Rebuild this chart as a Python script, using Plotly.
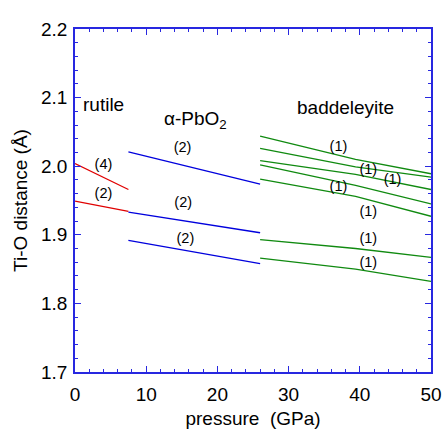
import plotly.graph_objects as go

# Rutile (red), x 0 -> 7.5 GPa
rutile_x = [0, 7.5]
rutile_4 = [2.004, 1.966]
rutile_2 = [1.949, 1.934]

# alpha-PbO2 (blue), x 7.5 -> 26 GPa
apbo2_x = [7.5, 26]
apbo2_upper = [2.021, 1.974]
apbo2_mid = [1.933, 1.903]
apbo2_lower = [1.892, 1.858]

# Baddeleyite (green), x 26 -> 50 GPa
badd_x = [26, 39.4, 50]
badd_1 = [2.044, 2.010, 1.989]
badd_2 = [2.026, 1.999, 1.984]
badd_3 = [2.008, 1.988, 1.966]
badd_4 = [2.002, 1.972, 1.945]
badd_5 = [1.981, 1.956, 1.927]
badd_6 = [1.893, 1.880, 1.867]
badd_7 = [1.866, 1.850, 1.832]

# Multiplicity labels
mult_text = ["(4)", "(2)", "(2)", "(2)", "(2)", "(1)", "(1)", "(1)", "(1)", "(1)", "(1)", "(1)"]
mult_x = [4.0, 4.0, 15.1, 15.2, 15.5, 37.0, 41.2, 44.6, 37.0, 41.2, 41.2, 41.2]
mult_y = [2.001, 1.959, 2.026, 1.946, 1.893, 2.028, 1.994, 1.979, 1.969, 1.933, 1.894, 1.858]

phase_text = ["rutile", "α-PbO<sub>2</sub>", "baddeleyite"]
phase_x = [0.8, 12.2, 30.9]
phase_y = [2.090, 2.067, 2.086]

RED = "#e00000"
BLUE = "#0000dd"
GREEN = "#108a10"
AXIS = "#2828e0"
FONT = "Liberation Sans, Arial, Helvetica"

fig = go.Figure()

def add_line(x, y, color):
    fig.add_trace(go.Scatter(x=x, y=y, mode="lines",
                             line=dict(color=color, width=1.3),
                             showlegend=False, hoverinfo="skip"))

for ys in [rutile_4, rutile_2]:
    add_line(rutile_x, ys, RED)
for ys in [apbo2_upper, apbo2_mid, apbo2_lower]:
    add_line(apbo2_x, ys, BLUE)
for ys in [badd_1, badd_2, badd_3, badd_4, badd_5, badd_6, badd_7]:
    add_line(badd_x, ys, GREEN)

fig.add_trace(go.Scatter(x=mult_x, y=mult_y, mode="text", text=mult_text,
                         textfont=dict(size=14.5, color="black", family=FONT),
                         showlegend=False, hoverinfo="skip"))

for t, x, y in zip(phase_text, phase_x, phase_y):
    fig.add_annotation(x=x, y=y, text=t, showarrow=False, xanchor="left",
                       yanchor="middle",
                       font=dict(size=19, color="black", family=FONT))

axis_common = dict(
    showline=True, linecolor=AXIS, linewidth=1.5, mirror="ticks",
    ticks="inside", tickcolor=AXIS, ticklen=6, tickwidth=1.3,
    showgrid=False, zeroline=False, automargin=False,
    tickfont=dict(size=19, color="black", family=FONT),
)

fig.update_xaxes(range=[0, 50], dtick=10, tick0=0, ticklabelstandoff=4,
                 minor=dict(dtick=2, ticks="inside", ticklen=3, tickcolor=AXIS),
                 title=dict(text="pressure  (GPa)", standoff=8,
                            font=dict(size=19, color="black", family=FONT)),
                 **axis_common)
fig.update_yaxes(range=[1.7, 2.2], dtick=0.1, tick0=1.7, tickformat=".1f",
                 ticklabelstandoff=2,
                 minor=dict(dtick=0.02, ticks="inside", ticklen=3, tickcolor=AXIS),
                 title=dict(text="Ti-O distance (Å)", standoff=8,
                            font=dict(size=19, color="black", family=FONT)),
                 **axis_common)

fig.update_layout(width=443, height=429,
                  margin=dict(l=75, r=12, t=29, b=57),
                  plot_bgcolor="white", paper_bgcolor="white")

fig.write_html(
    "out.html",
    config={"displayModeBar": False},
    post_script="document.body.style.margin='0';document.body.style.overflow='hidden';",
)
